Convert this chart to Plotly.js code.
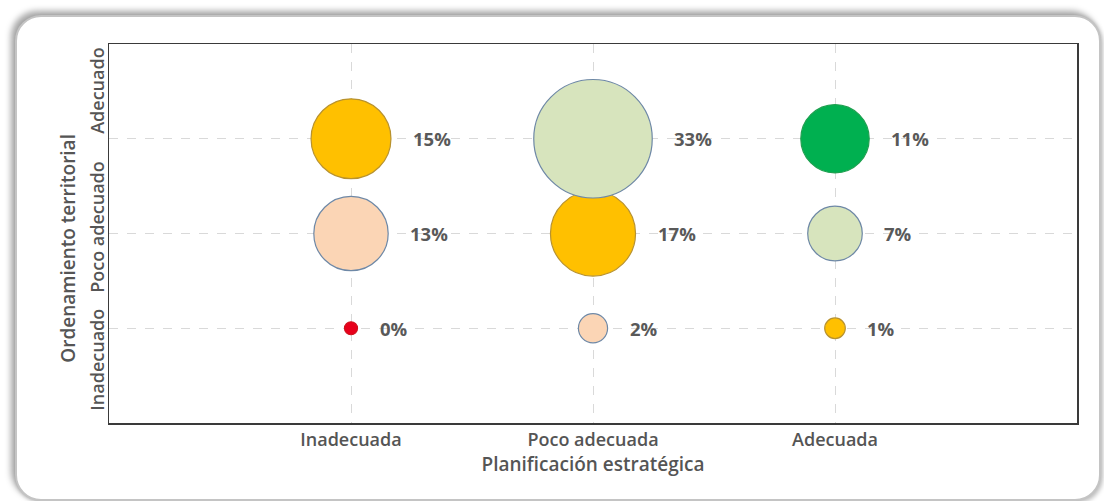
<!DOCTYPE html>
<html>
<head>
<meta charset="utf-8">
<script src="https://cdn.plot.ly/plotly-3.0.1.min.js"></script>
<style>
  html, body { margin: 0; padding: 0; background: #ffffff; overflow: hidden; }
  #wrap { position: relative; width: 1104px; height: 501px; }
  #frame {
    position: absolute; left: 15px; top: 15px; width: 1086px; height: 486px;
    border-radius: 26px; border: 2px solid #c4c4c4; background: #ffffff;
    box-shadow: -4px -4px 6px rgba(0,0,0,0.35), 2px 2px 4px rgba(0,0,0,0.25);
    box-sizing: border-box;
  }
  #chart { position: absolute; left: 0; top: 0; width: 1104px; height: 501px; }
</style>
</head>
<body>
<div id="wrap">
  <div id="frame"></div>
  <div id="chart"></div>
</div>
<script>
// Categories
const planificacion = ['Inadecuada', 'Poco adecuada', 'Adecuada'];   // x axis
const ordenamiento = ['Inadecuado', 'Poco adecuado', 'Adecuado'];    // y axis

// Percentages, one array per ordenamiento level (ordered by planificacion)
const adecuado     = [15, 33, 11];
const pocoAdecuado = [13, 17, 7];
const inadecuado   = [0.4, 2, 1];

// Bubble fill colours per level
const adecuadoColors     = ['#FFC000', '#D7E4BD', '#00B050'];
const pocoAdecuadoColors = ['#FBD5B5', '#FFC000', '#D7E4BD'];
const inadecuadoColors   = ['#E8001C', '#FBD5B5', '#FFC000'];

const lineFor = c => (c === '#FFC000' ? '#B8922E' : (c === '#00B050' ? '#1FA050' : (c === '#E8001C' ? '#D0101C' : '#6E88A6')));

const rows = [
  { level: ordenamiento[0], vals: inadecuado,   cols: inadecuadoColors },
  { level: ordenamiento[1], vals: pocoAdecuado, cols: pocoAdecuadoColors },
  { level: ordenamiento[2], vals: adecuado,     cols: adecuadoColors }
];

const sizeref = 0.0047;
const FONT = 'Open Sans, sans-serif';
const tickFont = { family: FONT, size: 18, color: '#555555', weight: 600 };
const titleFont = { family: FONT, size: 19, color: '#555555', weight: 600 };

const traces = [];
const annotations = [];
rows.forEach(r => {
  traces.push({
    type: 'scatter', mode: 'markers',
    x: planificacion, y: planificacion.map(() => r.level),
    marker: {
      size: r.vals, sizemode: 'area', sizeref: sizeref,
      color: r.cols, opacity: 1,
      line: { color: r.cols.map(lineFor), width: 1.2 }
    },
    hoverinfo: 'skip', showlegend: false, cliponaxis: false
  });
  r.vals.forEach((v, i) => {
    const rad = Math.sqrt(v / 2 / sizeref);
    annotations.push({
      x: planificacion[i], y: r.level, xref: 'x', yref: 'y',
      text: '<b>' + Math.round(v) + '%</b>', showarrow: false,
      xanchor: 'left', yanchor: 'middle', xshift: rad + 20,
      font: { family: FONT, size: 18.5, color: '#595959' }
    });
  });
});

// y-axis title
annotations.push({
  xref: 'paper', yref: 'paper', x: 0, y: 0.46, xshift: -41,
  xanchor: 'center', yanchor: 'middle', textangle: -90, showarrow: false,
  text: 'Ordenamiento territorial', font: titleFont
});

// invisible helper trace so the label axis (y2) is drawn
traces.push({ type: 'scatter', mode: 'markers', x: [planificacion[0]], y: [0.5], yaxis: 'y2',
  marker: { opacity: 0 }, hoverinfo: 'skip', showlegend: false });

const layout = {
  width: 1104, height: 501,
  margin: { l: 109, r: 27, t: 44, b: 78 },
  paper_bgcolor: 'rgba(0,0,0,0)', plot_bgcolor: '#ffffff',
  showlegend: false,
  xaxis: {
    type: 'category', categoryorder: 'array', categoryarray: planificacion,
    range: [-1, 3],
    showgrid: true, gridcolor: '#D9D9D9', griddash: 'dash', gridwidth: 1,
    zeroline: false, showline: true, mirror: true, linecolor: '#3a3a3a', linewidth: 1.5,
    ticks: '', tickfont: tickFont,
    title: { text: 'Planificación estratégica', font: titleFont, standoff: 4 }
  },
  yaxis: {
    type: 'category', categoryorder: 'array', categoryarray: ordenamiento,
    range: [-1, 3],
    showgrid: true, gridcolor: '#D9D9D9', griddash: 'dash', gridwidth: 1,
    zeroline: false, showline: true, mirror: true, linecolor: '#3a3a3a', linewidth: 1.5,
    ticks: '', showticklabels: false
  },
  yaxis2: {
    overlaying: 'y', side: 'left', range: [0, 1],
    tickmode: 'array', tickvals: [0.16, 0.51, 0.87], ticktext: ordenamiento,
    showgrid: false, zeroline: false, showline: false, ticks: '',
    tickangle: -90, tickfont: tickFont
  },
  annotations: annotations
};

Plotly.newPlot('chart', traces, layout, { displayModeBar: false, staticPlot: true });
</script>
</body>
</html>
